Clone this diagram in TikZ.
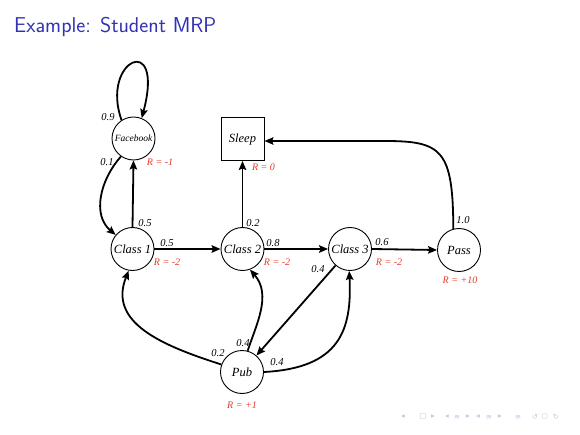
\documentclass[tikz,border=0pt]{standalone}
\usepackage{fontspec}
\newfontfamily\tnr{Liberation Serif}
\newfontfamily\dejavu{DejaVu Sans}
\usetikzlibrary{arrows.meta}
\definecolor{titleblue}{rgb}{0.2,0.2,0.7}
\definecolor{rewardred}{rgb}{0.9,0.22,0.15}
\definecolor{navgray}{rgb}{0.78,0.78,0.88}
\begin{document}
\begin{tikzpicture}[x=1pt,y=-1pt,
  state/.style={circle,draw,line width=0.9pt,minimum size=43pt,inner sep=0pt,
    font=\tnr\itshape\fontsize{12.5}{14}\selectfont},
  smallstate/.style={state,font=\tnr\itshape\fontsize{9.5}{11}\selectfont},
  term/.style={rectangle,draw,line width=1pt,minimum size=43pt,inner sep=0pt,
    font=\tnr\itshape\fontsize{12.5}{14}\selectfont},
  trans/.style={line width=1.8pt,-{Stealth[length=9pt,width=7.5pt,inset=1.5pt]}},
  prob/.style={font=\tnr\itshape\fontsize{10.5}{12}\selectfont,inner sep=0pt},
  reward/.style={font=\tnr\itshape\fontsize{10}{12}\selectfont,text=rewardred,inner sep=0pt},
  nav/.style={font=\dejavu\fontsize{7.5}{9}\selectfont,text=navgray,inner sep=0pt}]
\useasboundingbox (0,0) rectangle (580,435);

% title
\node[anchor=base west,inner sep=0pt,text=titleblue,font=\sffamily\fontsize{21.5}{26}\selectfont]
  (title) at (14,33) {Example: Student MRP};

% states
\node[smallstate] (fb) at (133.5,138.5) {Facebook};
\node[term] (sleep) at (242.5,139) {Sleep};
\node[state] (c1) at (132.5,249) {Class 1};
\node[state] (c2) at (242.5,249) {Class 2};
\node[state] (c3) at (350,249) {Class 3};
\node[state] (pass) at (459,250) {Pass};
\node[state] (pub) at (242,372) {Pub};

% transitions
\draw[trans] (fb.123) .. controls (100,60) and (165,30) .. (fb.68);
\draw[trans] (fb.235) .. controls (100,180) and (92,215) .. (c1.140);
\draw[trans] (c1.north) -- (fb.south);
\draw[trans] (c1.east) -- (c2.west);
\draw[trans] (c2.north) -- (sleep.south);
\draw[trans] (c2.east) -- (c3.west);
\draw[trans] (c3.east) -- (pass.west);
\draw[trans] (c3) -- (pub);
\draw[trans] (pass.105) .. controls (453,150) and (442,141) .. (385,141) -- (sleep.east |- 0,141);
\draw[trans] (pub.160) .. controls (160,345) and (108,322) .. (c1.260);
\draw[trans] (pub.75) .. controls (256,325) and (272,295) .. (c2.290);
\draw[trans] (pub.east) .. controls (340,368) and (352,330) .. (c3.268);

% probabilities
\node[prob] (p09) at (108,117) {0.9};
\node[prob] (p01) at (107,162) {0.1};
\node[prob] (p05u) at (145,223) {0.5};
\node[prob] (p05r) at (167,243) {0.5};
\node[prob] (p02s) at (253,223) {0.2};
\node[prob] (p08) at (273,243) {0.8};
\node[prob] (p06) at (382,242) {0.6};
\node[prob] (p04c) at (318,269) {0.4};
\node[prob] (p10) at (463,220) {1.0};
\node[prob] (p02p) at (218,353) {0.2};
\node[prob] (p04u) at (243,343) {0.4};
\node[prob] (p04r) at (277,362) {0.4};

% rewards
\node[reward] (rfb) at (160,162) {R = -1};
\node[reward] (rsl) at (263.5,167) {R = 0};
\node[reward] (rc1) at (167,262) {R = -2};
\node[reward] (rc2) at (277,262) {R = -2};
\node[reward] (rc3) at (389,262) {R = -2};
\node[reward] (rps) at (460,280) {R = +10};
\node[reward] (rpb) at (242,405) {R = +1};

% navigation symbols
\node[nav] (n1) at (403,417) {◂};
\node[nav] (n2) at (423,417) {□};
\node[nav] (n3) at (433,417) {▸};
\node[nav] (n4) at (447,417) {◂};
\node[nav] (n5) at (457,417) {≡};
\node[nav] (n6) at (468,417) {▸};
\node[nav] (n7) at (478,417) {◂};
\node[nav] (n8) at (489,417) {≡};
\node[nav] (n9) at (500,417) {▸};
\node[nav] (n10) at (518,417) {≡};
\node[nav] (n11) at (535,417) {↺};
\node[nav] (n12) at (545,417) {○};
\node[nav] (n13) at (556,417) {↻};
\end{tikzpicture}
\end{document}
